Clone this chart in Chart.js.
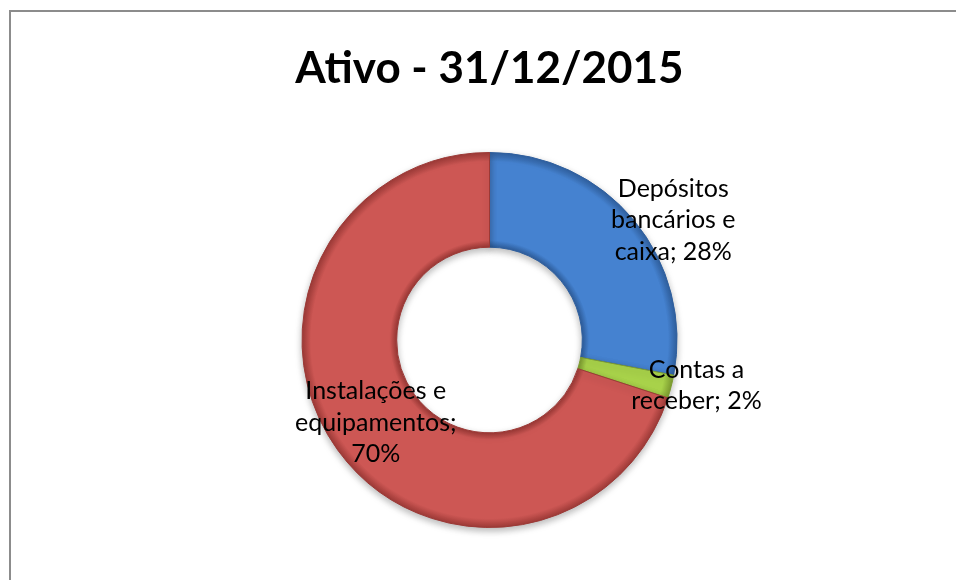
<!DOCTYPE html>
<html lang="pt">
<head>
    <meta charset="UTF-8">
    <title>Ativo - 31/12/2015</title>
    <script src="https://cdn.jsdelivr.net/npm/chart.js"></script>
    <style>
        html, body { margin: 0; padding: 0; background: #fff; }
        #wrap { position: relative; width: 956px; height: 580px; overflow: hidden; }
        #frame { position: absolute; left: 9px; top: 10px; width: 1000px; height: 700px;
                 border-left: 2px solid #8c8c8c; border-top: 2px solid #8c8c8c; }
        canvas { position: absolute; left: 0; top: 0; }
    </style>
</head>
<body>
<div id="wrap">
    <div id="frame"></div>
    <canvas id="pieChart" width="956" height="580"></canvas>
</div>

<script>
    // data
    const categories = ['Depósitos bancários e caixa', 'Contas a receber', 'Instalações e equipamentos'];
    const percents = [28, 2, 70];
    // how each label is broken into lines (as in the original)
    const labelLines = [
        ['Depósitos', 'bancários e', 'caixa; 28%'],
        ['Contas a', 'receber; 2%'],
        ['Instalações e', 'equipamentos;', '70%']
    ];

    const baseColors = ['#4582d0', '#a8d24a', '#cd5754'];
    const edgeColors = ['#2f5f9e', '#7d9c30', '#9c3936'];

    // soft bevel: darker at inner and outer edge of the ring
    function ringFill(ctx) {
        const chart = ctx.chart;
        const area = chart.chartArea;
        const i = ctx.dataIndex;
        if (!area) return baseColors[i];
        const cx = (area.left + area.right) / 2;
        const cy = (area.top + area.bottom) / 2;
        const outer = Math.min(area.right - area.left, area.bottom - area.top) / 2;
        const inner = outer * 0.495;
        const g = chart.ctx.createRadialGradient(cx, cy, inner, cx, cy, outer);
        g.addColorStop(0, edgeColors[i]);
        g.addColorStop(0.07, baseColors[i]);
        g.addColorStop(0.9, baseColors[i]);
        g.addColorStop(1, edgeColors[i]);
        return g;
    }

    // label placement: radius factor (of outer radius) and angle shift in degrees
    const labelPlace = [
        { r: 1.17, shift: 6.5 },
        { r: 1.13, shift: -2 },
        { r: 0.75, shift: 0 }
    ];

    const sliceLabels = {
        id: 'sliceLabels',
        afterDatasetsDraw(chart) {
            const ctx = chart.ctx;
            const arcs = chart.getDatasetMeta(0).data;
            ctx.save();
            ctx.font = '25px Lato';
            ctx.fillStyle = '#000';
            ctx.textAlign = 'center';
            ctx.textBaseline = 'middle';
            arcs.forEach((arc, i) => {
                const p = labelPlace[i];
                const mid = (arc.startAngle + arc.endAngle) / 2 + p.shift * Math.PI / 180;
                const r = arc.outerRadius * p.r;
                const x = arc.x + Math.cos(mid) * r;
                const y = arc.y + Math.sin(mid) * r;
                const lines = labelLines[i];
                const lh = 31.5;
                lines.forEach((t, k) => {
                    ctx.fillText(t, x, y + (k - (lines.length - 1) / 2) * lh);
                });
            });
            ctx.restore();
        }
    };

    const ringShadow = {
        id: 'ringShadow',
        beforeDatasetsDraw(chart) {
            const ctx = chart.ctx;
            ctx.save();
            ctx.shadowColor = 'rgba(0,0,0,0.28)';
            ctx.shadowBlur = 7;
            ctx.shadowOffsetY = 3;
        },
        afterDatasetsDraw(chart) {
            chart.ctx.restore();
        }
    };

    const ctx = document.getElementById('pieChart').getContext('2d');
    const pieChart = new Chart(ctx, {
        type: 'doughnut',
        data: {
            labels: categories,
            datasets: [{
                data: percents,
                backgroundColor: ringFill,
                borderColor: edgeColors,
                borderWidth: 1
            }]
        },
        options: {
            responsive: false,
            animation: false,
            cutout: '49.5%',
            layout: { padding: { left: 23, right: 0, top: 0, bottom: 52 } },
            plugins: {
                legend: { display: false },
                tooltip: { enabled: false },
                title: {
                    display: true,
                    text: 'Ativo - 31/12/2015',
                    color: '#000',
                    font: { family: 'Lato', size: 44, weight: 'bold', lineHeight: 1.2 },
                    padding: { top: 42, bottom: 57.2 }
                }
            }
        },
        plugins: [ringShadow, sliceLabels]
    });
</script>
</body>
</html>
